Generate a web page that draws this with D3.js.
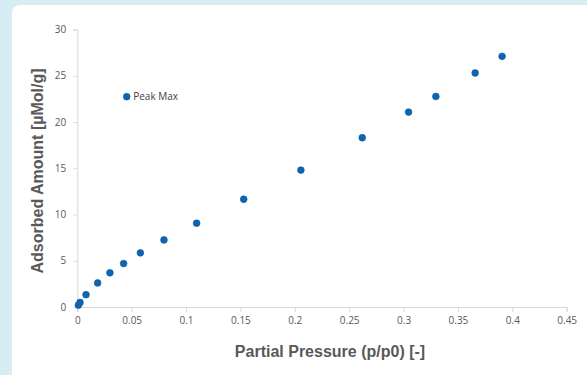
<!DOCTYPE html>
<html lang="en">
<head>
    <meta charset="UTF-8">
    <title>Peak Max isotherm</title>
    <script src="https://d3js.org/d3.v7.min.js"></script>
    <style>
        body {
            margin: 0;
            padding: 0;
            background-color: #d8ecf3;
            overflow: hidden;
        }
        .tick text {
            font-family: "Open Sans", sans-serif;
            font-size: 10px;
            fill: #595959;
        }
        .tick line, .domain {
            stroke: #d9d9d9;
        }
        .axis-title {
            font-family: "Liberation Sans", Arial, sans-serif;
            font-weight: bold;
            font-size: 16px;
            fill: #595959;
        }
        .legend {
            font-family: "Open Sans", sans-serif;
            font-size: 10px;
            fill: #404040;
        }
    </style>
</head>
<body>
    <script>
        // Données
        const pressure = [0.001, 0.0025, 0.008, 0.0187, 0.030, 0.0426, 0.058, 0.0797, 0.1097, 0.153, 0.2056, 0.262, 0.3046, 0.3297, 0.3658, 0.3906];
        const adsorbed = [0.2, 0.5, 1.33, 2.6, 3.7, 4.7, 5.85, 7.25, 9.06, 11.65, 14.8, 18.3, 21.07, 22.76, 25.3, 27.1];
        const xTicks = [0, 0.05, 0.1, 0.15, 0.2, 0.25, 0.3, 0.35, 0.4, 0.45];
        const yTicks = [0, 5, 10, 15, 20, 25, 30];
        const seriesName = "Peak Max";

        const width = 587;
        const height = 375;
        const margin = { top: 29.5, right: 20.3, bottom: 68, left: 77.3 };

        const svg = d3.select("body")
            .append("svg")
            .attr("width", width)
            .attr("height", height);

        // Panneau blanc
        svg.append("rect")
            .attr("x", 12)
            .attr("y", 5)
            .attr("width", width)
            .attr("height", height + 10)
            .attr("rx", 8)
            .attr("fill", "#ffffff");

        const x = d3.scaleLinear()
            .domain([0, 0.45])
            .range([margin.left, width - margin.right]);

        const y = d3.scaleLinear()
            .domain([0, 30])
            .range([height - margin.bottom, margin.top]);

        svg.append("g")
            .attr("transform", `translate(0,${height - margin.bottom})`)
            .call(d3.axisBottom(x).tickValues(xTicks).tickSize(5).tickPadding(5).tickFormat(d => String(d)));

        svg.append("g")
            .attr("transform", `translate(${margin.left},0)`)
            .call(d3.axisLeft(y).tickValues(yTicks).tickSize(4).tickPadding(7).tickFormat(d => String(d)));

        svg.selectAll(".domain").attr("stroke-width", 1);

        // Points
        svg.selectAll(".dot")
            .data(pressure.map((p, i) => [p, adsorbed[i]]))
            .enter()
            .append("circle")
            .attr("class", "dot")
            .attr("cx", d => x(d[0]))
            .attr("cy", d => y(d[1]))
            .attr("r", 3.4)
            .attr("fill", "#0866b6")
            .attr("stroke", "#1d5a94")
            .attr("stroke-width", 0.6);

        // Légende
        const legend = svg.append("g").attr("transform", "translate(126.7,96.7)");
        legend.append("circle")
            .attr("r", 3.4)
            .attr("fill", "#0866b6")
            .attr("stroke", "#1d5a94")
            .attr("stroke-width", 0.6);
        legend.append("text")
            .attr("class", "legend")
            .attr("x", 6.5)
            .attr("dy", "0.35em")
            .text(seriesName);

        // Titres des axes
        svg.append("text")
            .attr("class", "axis-title")
            .attr("text-anchor", "middle")
            .attr("x", 330)
            .attr("y", 357)
            .text("Partial Pressure (p/p0) [-]");

        svg.append("text")
            .attr("class", "axis-title")
            .attr("text-anchor", "middle")
            .attr("transform", "translate(43,171) rotate(-90)")
            .text("Adsorbed Amount [µMol/g]");
    </script>
</body>
</html>
